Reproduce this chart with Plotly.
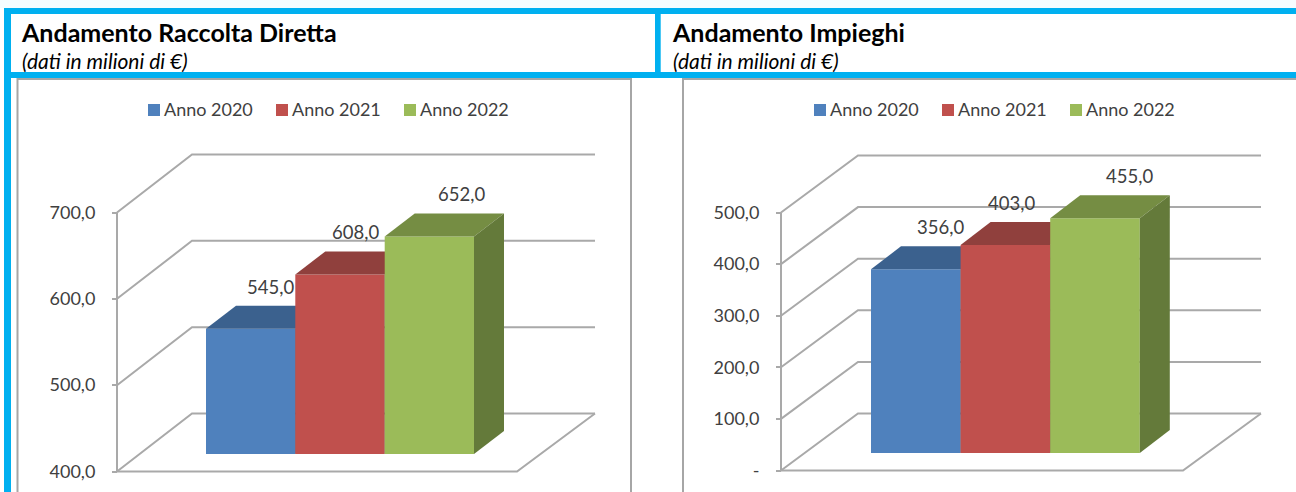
import plotly.graph_objects as go

# ---------- data ----------
series_names = ["Anno 2020", "Anno 2021", "Anno 2022"]
raccolta_values = [545.0, 608.0, 652.0]
impieghi_values = [356.0, 403.0, 455.0]
raccolta_ticks = [400, 500, 600, 700]
raccolta_ticktext = ["400,0", "500,0", "600,0", "700,0"]
impieghi_ticks = [0, 100, 200, 300, 400, 500]
impieghi_ticktext = ["-", "100,0", "200,0", "300,0", "400,0", "500,0"]
titles = ["Andamento Raccolta Diretta", "Andamento Impieghi"]
subtitle = "(dati in milioni di €)"

# ---------- style ----------
W, H = 1296, 492
FONT = "Lato"
BLUE = "#00b0f0"
FRAME = "#a6a6a6"
GRID = "#a9a9a9"
TICKFONT = "#404040"
front = ["#4f81bd", "#c0504d", "#9bbb59"]
top = ["#3b618e", "#90403d", "#758d43"]
side = ["#2f4d71", "#733230", "#647a3a"]

charts = [
    dict(values=raccolta_values, ticks=raccolta_ticks, ticktext=raccolta_ticktext,
         v0=400, y0=471.5, vtop=700, ytop=212.5, ax=117, floor_r=517, back_dx=75, back_r=595, back_dy=58,
         bar_l=[206, 295.3, 384.7], bar_w=89.3, lab_dx=[64.5, 60.5, 77], title_x=19, leg_x=148),
    dict(values=impieghi_values, ticks=impieghi_ticks, ticktext=impieghi_ticktext,
         v0=0, y0=470.5, vtop=500, ytop=212.5, ax=781, floor_r=1183, back_dx=77, back_r=1261, back_dy=57,
         bar_l=[871, 960.6, 1050.2], bar_w=89.6, lab_dx=[69, 51, 79], title_x=670, leg_x=814),
]
BAR_DX, BAR_DY, FRONT_DY = 30, 23, 17.5

fig = go.Figure()
layout_axes = {}
annotations = []
axis_no = 0


def next_axis():
    global axis_no
    axis_no += 1
    return ("y" if axis_no == 1 else f"y{axis_no}"), ("yaxis" if axis_no == 1 else f"yaxis{axis_no}")


for c in charts:
    scale = (c["y0"] - c["ytop"]) / (c["vtop"] - c["v0"])  # px per unit
    rng = [c["v0"] - (H - c["y0"]) / scale, c["v0"] + c["y0"] / scale]
    base_ref, base_key = next_axis()
    layout_axes[base_key] = dict(
        domain=[0, 1], range=rng, anchor="free", position=c["ax"] / W, side="left",
        tickmode="array", tickvals=c["ticks"], ticktext=c["ticktext"],
        ticks="outside", ticklen=5, tickcolor=GRID, tickwidth=2, showgrid=False, zeroline=False,
        showline=False, ticklabelstandoff=13,
        tickfont=dict(family=FONT, size=18, color=TICKFONT),
        **({} if axis_no == 1 else {"overlaying": "y"}),
    )
    px = lambda p: p / scale
    # walls, floor and axis line
    wall_x, wall_y = [c["ax"], c["ax"], None], [c["v0"], c["vtop"], None]
    for t in c["ticks"]:
        wall_x += [c["ax"], c["ax"] + c["back_dx"], c["back_r"], None]
        wall_y += [t, t + px(c["back_dy"]), t + px(c["back_dy"]), None]
    wall_x += [c["back_r"], c["floor_r"], c["ax"]]
    wall_y += [c["v0"] + px(c["back_dy"]), c["v0"], c["v0"]]
    fig.add_trace(go.Scatter(x=wall_x, y=wall_y, mode="lines", yaxis=base_ref, xaxis="x",
                             line=dict(color=GRID, width=2), showlegend=False, hoverinfo="skip"))
    # bars, back to front: every bar has its own overlay axis so it can hide its neighbour's top
    bottom = c["v0"] + px(FRONT_DY)
    for i, v in enumerate(c["values"]):
        ref, key = next_axis()
        layout_axes[key] = dict(domain=[0, 1], range=rng, overlaying="y", visible=False, anchor="x")
        fv = v + px(FRONT_DY)
        l, w = c["bar_l"][i], c["bar_w"]
        fig.add_trace(go.Bar(x=[l + w / 2], y=[fv - bottom], base=[bottom], width=[w], yaxis=ref, xaxis="x",
                             marker=dict(color=front[i], line=dict(width=0)), name=series_names[i],
                             showlegend=False))
        fig.add_trace(go.Scatter(
            x=[l, l + BAR_DX, l + w + BAR_DX, l + w, l], y=[fv, fv + px(BAR_DY), fv + px(BAR_DY), fv, fv],
            fill="toself", fillcolor=top[i], mode="none", yaxis=ref, xaxis="x", showlegend=False, hoverinfo="skip"))
        fig.add_trace(go.Scatter(
            x=[l + w, l + w + BAR_DX, l + w + BAR_DX, l + w, l + w],
            y=[fv, fv + px(BAR_DY), bottom + px(BAR_DY), bottom, fv],
            fill="toself", fillcolor=side[i], mode="none", yaxis=ref, xaxis="x", showlegend=False, hoverinfo="skip"))
        annotations.append(dict(
            x=l + c["lab_dx"][i], y=fv, xref="x", yref=ref, yshift=42, showarrow=False,
            text=f"{v:.1f}".replace(".", ","), font=dict(family=FONT, size=18.5, color=TICKFONT)))
        # legend key and text
        lx = c["leg_x"] + i * 128
        fig.add_trace(go.Scatter(x=[lx + 6], y=[c["v0"] + (c["y0"] - 110) / scale], mode="markers", xaxis="x", yaxis=ref,
                                 marker=dict(symbol="square", size=12, color=front[i]), name=series_names[i],
                                 showlegend=False, hoverinfo="skip"))
        annotations.append(dict(x=lx + 13.5, y=1 - 109.5 / H, xref="x", yref="paper", xanchor="left", yanchor="middle",
                                showarrow=False, text=series_names[i], font=dict(family=FONT, size=18, color=TICKFONT)))

for c, t in zip(charts, titles):
    annotations.append(dict(x=c["title_x"] / W, y=1 - 32 / H, xref="paper", yref="paper", xanchor="left",
                            yanchor="middle", showarrow=False,
                            text=f"<b>{t}</b>", font=dict(family=FONT, size=25, color="#000000")))
    annotations.append(dict(x=(c["title_x"] + 0.5) / W, y=1 - 60 / H, xref="paper", yref="paper", xanchor="left",
                            yanchor="middle", showarrow=False,
                            text=f"<i>{subtitle}</i>", font=dict(family=FONT, size=21, color="#000000")))


def rect(x0, y0, x1, y1, **kw):
    return dict(type="rect", xref="paper", yref="paper", x0=x0 / W, x1=x1 / W, y0=1 - y0 / H, y1=1 - y1 / H,
                layer="below", **kw)


shapes = [
    rect(0, 0, W, 8, fillcolor="#f6fdff", line_width=0),
    rect(17.5, 79, 631, 500, fillcolor="white", line=dict(color=FRAME, width=2)),
    rect(683, 79, 1310, 500, fillcolor="white", line=dict(color=FRAME, width=2)),
    rect(4, 8, W, 14, fillcolor=BLUE, line_width=0),
    rect(4, 72, W, 78, fillcolor=BLUE, line_width=0),
    rect(4, 8, 11, H, fillcolor=BLUE, line_width=0),
    rect(655, 8, 660.7, 78, fillcolor=BLUE, line_width=0),
]

fig.update_layout(
    width=W, height=H, margin=dict(l=0, r=0, t=0, b=0), paper_bgcolor="white", plot_bgcolor="rgba(0,0,0,0)",
    barmode="overlay", showlegend=False, shapes=shapes, annotations=annotations,
    xaxis=dict(domain=[0, 1], range=[0, W], visible=False, fixedrange=True),
    **layout_axes,
)
fig.write_html("out.html", post_script="document.body.style.margin='0';", config={"displayModeBar": False})
